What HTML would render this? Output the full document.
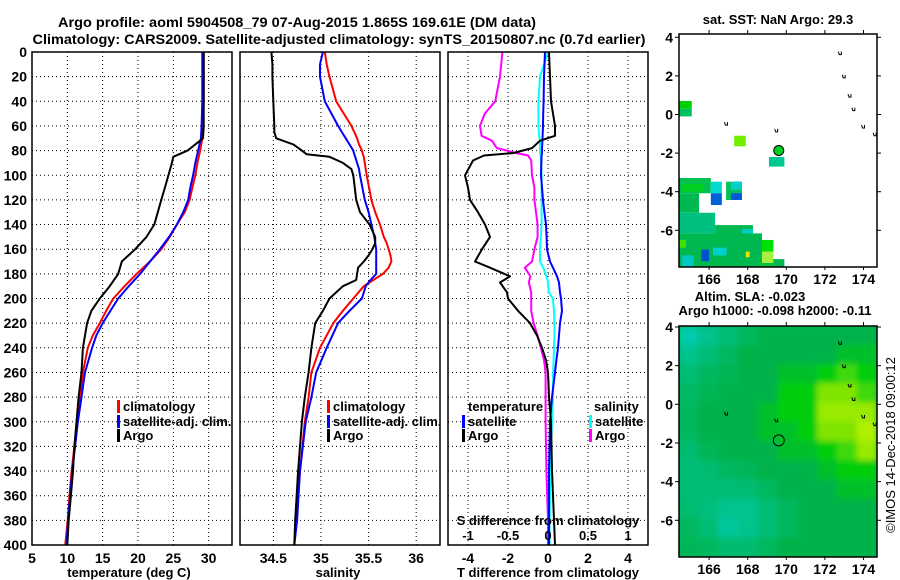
<!DOCTYPE html>
<html><head><meta charset="utf-8">
<style>
html,body{margin:0;padding:0;background:#fff;}
svg{display:block;font-family:"Liberation Sans",Arial,sans-serif;font-weight:bold;}
</style></head>
<body>
<svg id="fig" width="900" height="580" viewBox="0 0 900 580" xmlns="http://www.w3.org/2000/svg">
<defs>
<clipPath id="c1"><rect x="32" y="52" width="200" height="493"/></clipPath>
<clipPath id="c2"><rect x="240" y="52" width="200" height="493"/></clipPath>
<clipPath id="c3"><rect x="448" y="52" width="200" height="493"/></clipPath>
<clipPath id="cm1"><rect x="679" y="34" width="198" height="233"/></clipPath>
<clipPath id="cm2"><rect x="679" y="326" width="198" height="231"/></clipPath>
<filter id="soft" x="0" y="0" width="1" height="1"><feGaussianBlur stdDeviation="3"/></filter>
</defs>
<text x="297" y="27" font-size="14" text-anchor="middle" textLength="478" lengthAdjust="spacingAndGlyphs">Argo profile: aoml 5904508_79 07-Aug-2015 1.865S 169.61E (DM data)</text>
<text x="339" y="44" font-size="14" text-anchor="middle" textLength="613" lengthAdjust="spacingAndGlyphs">Climatology: CARS2009. Satellite-adjusted climatology: synTS_20150807.nc (0.7d earlier)</text>
<g id="layer"></g>
</svg>
<script>
// ---- depth grid (m) ----
const depths = [0,20,40,60,70,80,85,90,100,110,120,130,140,150,160,170,180,190,200,210,220,230,240,260,280,300,320,340,360,380,400];
// temperature (deg C)
const tempClim = [29.3,29.3,29.3,29.2,29.1,28.8,28.6,28.4,28.1,27.7,27.3,26.6,25.5,24.5,23.3,21.7,19.8,18.1,16.5,15.5,14.6,13.6,12.9,12.2,11.8,11.4,11.0,10.6,10.3,10.05,9.7];
const tempSat  = [29.1,29.1,29.1,29.0,28.9,28.5,28.3,28.1,27.8,27.4,27.1,26.4,25.5,24.4,23.1,21.7,20.3,18.7,17.2,16.1,15.0,14.1,13.5,12.5,12.0,11.5,11.1,10.7,10.4,10.1,9.9];
const tempArgo = [29.3,29.3,29.3,29.3,29.2,27.0,25.0,24.8,24.3,23.8,23.3,22.8,22.3,21.2,19.6,17.7,17.2,16.0,14.6,13.4,12.8,12.5,12.2,12.0,11.6,11.3,11.0,10.8,10.5,10.2,10.0];
// salinity (psu)
const salDepths = [0,10,20,40,60,65,70,75,80,83,85,90,95,100,120,130,140,150,155,160,165,170,175,180,185,190,200,210,220,240,260,280,300,340,380,400];
const salClim = [35.04,35.06,35.09,35.16,35.32,35.35,35.38,35.40,35.43,35.44,35.45,35.46,35.47,35.48,35.53,35.57,35.62,35.66,35.69,35.71,35.73,35.74,35.71,35.65,35.55,35.45,35.34,35.23,35.13,34.99,34.90,34.87,34.83,34.78,34.74,34.72];
const salSat  = [35.02,34.99,34.99,35.04,35.18,35.22,35.26,35.30,35.34,35.35,35.36,35.38,35.40,35.41,35.46,35.50,35.53,35.56,35.57,35.58,35.58,35.58,35.58,35.58,35.52,35.47,35.43,35.30,35.18,35.06,34.95,34.90,34.84,34.78,34.75,34.72];
const salArgo = [34.48,34.49,34.49,34.50,34.51,34.51,34.53,34.71,34.80,34.85,35.09,35.23,35.32,35.34,35.37,35.41,35.51,35.57,35.57,35.54,35.50,35.45,35.39,35.38,35.37,35.23,35.09,35.02,34.94,34.90,34.87,34.83,34.80,34.76,34.73,34.72];
// differences from climatology
const diffDepths = [0,20,40,50,60,68,72,78,82,84,88,100,110,120,130,140,150,160,170,175,182,187,195,200,210,220,230,240,250,260,280,300,340,380,400];
const tDiffArgo = [0.05,0.1,0.15,0.25,0.35,0.35,-0.4,-0.8,-1.75,-3.2,-3.75,-4.15,-4.0,-3.9,-3.5,-3.15,-2.9,-3.3,-3.65,-2.9,-1.9,-2.4,-2.05,-2.0,-1.5,-0.9,-0.55,-0.3,-0.1,0.0,0.05,0.15,0.2,0.3,0.35];
const tDiffSat  = [-0.15,-0.2,-0.22,-0.24,-0.25,-0.27,-0.28,-0.3,-0.3,-0.32,-0.33,-0.35,-0.3,-0.25,-0.18,-0.1,-0.07,-0.05,0.1,0.25,0.45,0.55,0.6,0.65,0.7,0.6,0.55,0.5,0.42,0.35,0.2,0.1,0.05,0.05,0.05];
const sDiffSat  = [0.0,-0.1,-0.12,-0.12,-0.12,-0.11,-0.1,-0.1,-0.1,-0.09,-0.09,-0.08,-0.08,-0.08,-0.08,-0.08,-0.09,-0.1,-0.1,-0.06,-0.02,0.0,0.01,0.06,0.075,0.08,0.08,0.075,0.07,0.065,0.06,0.05,0.03,0.02,0.02];
const sDiffArgo = [-0.57,-0.6,-0.66,-0.79,-0.85,-0.83,-0.7,-0.64,-0.39,-0.25,-0.21,-0.2,-0.17,-0.17,-0.15,-0.13,-0.13,-0.17,-0.2,-0.29,-0.22,-0.24,-0.21,-0.21,-0.21,-0.18,-0.13,-0.09,-0.05,-0.03,-0.03,-0.03,-0.02,0.0,0.0];
// ticks
const depthTicks = [0,20,40,60,80,100,120,140,160,180,200,220,240,260,280,300,320,340,360,380,400];
const tempTicks = [5,10,15,20,25,30];
const salTicks = [34.5,35,35.5,36];
const tDiffTicks = [-4,-2,0,2,4];
const sDiffTicks = [-1,-0.5,0,0.5,1];
const sDiffTickLabels = ["-1","-0.5","0","0.5","1"];
const latTicks = [4,2,0,-2,-4,-6];
const lonTicks = [166,168,170,172,174];
// SST map patches [lon0, latTop, lon1, latBottom, colour]
const sstPatches = [
[164.44,0.7,165.1,0.3,'#00d000'],[164.44,0.3,165.1,-0.1,'#00c060'],[167.3,-1.1,167.9,-1.65,'#70f000'],[169.1,-2.2,169.9,-2.7,'#00c890'],
[164.44,-3.29,166.09,-4.08,'#00c050'],[164.6,-3.6,165.7,-4.0,'#00d020'],[166.09,-3.48,166.66,-4.08,'#00d8d0'],[166.09,-4.08,166.66,-4.69,'#0060d8'],
[166.88,-3.48,167.7,-4.43,'#00c060'],[167.13,-3.48,167.7,-3.9,'#00d0c8'],[167.13,-4.08,167.7,-4.43,'#0058d8'],[164.44,-4.08,165.48,-5.09,'#00b850'],
[164.44,-5.09,166.31,-6.16,'#00c080'],[166.31,-5.73,168.27,-6.5,'#00b850'],[167.7,-5.93,168.27,-6.45,'#00d0c0'],[164.44,-6.16,168.74,-7.9,'#00b850'],
[165.6,-7.0,166.0,-7.6,'#0050d0'],[164.6,-7.3,165.2,-7.9,'#00c8c0'],[166.2,-6.9,166.9,-7.3,'#00d0d0'],[168.74,-6.5,169.33,-7.11,'#00e000'],
[168.74,-7.11,169.33,-7.69,'#a8f040'],[168.49,-7.69,169.33,-7.9,'#00c040'],[169.33,-7.49,169.9,-7.9,'#00b850'],[164.44,-6.5,164.8,-6.9,'#40e000'],[167.9,-7.1,168.1,-7.4,'#f0e000']
];
// SLA map grid values (rows lat 4..-8, cols lon 164.44..174.7)
const slaGrid = [
[0.3,0.8,1.2,1.6,2,2,2,2,2,2],
[0.8,1.2,1.6,2,2,2,2,2,2.5,2.5],
[1.2,1.6,1.8,2,2,2.5,2.5,3,3.5,3],
[1.5,1.8,2,2,2,3,3,4,4,3.5],
[1.6,2,2,2,2.5,3,3,4.5,4.5,4.5],
[1.6,2,2,2,2.5,2.5,3,4,4,5],
[1.3,1.7,2,2,2,2.5,2.5,3,3.5,4.5],
[1.2,1.3,1.6,1.7,2,2,2,2.5,3,3],
[1.2,1.2,1.2,1.3,1.6,2,2,2,2.5,2.5],
[1.3,1.1,0.8,0.8,1.2,1.6,2,2,2,2],
[1.6,1.2,0.6,0.8,1.2,1.6,2,2,2,2],
[1.7,1.6,1.3,1.3,1.6,2,2,2,2,2]
];
const argoLon = 169.61, argoLat = -1.865;
const coastLon = [172.8,173.0,173.3,173.5,174.0,174.6,169.5,166.9];
const coastLat = [3.1,1.9,0.9,0.2,-0.7,-1.1,-0.9,-0.55];

const NS='http://www.w3.org/2000/svg';
const layer=document.getElementById('layer');
function mk(tag,attrs,parent){const e=document.createElementNS(NS,tag);for(const k in attrs)e.setAttribute(k,attrs[k]);(parent||layer).appendChild(e);return e;}
const yD = d => 52 + d*(493/400);
function xs(x0,x1,v0,v1){return v=>x0+(v-v0)*(x1-x0)/(v1-v0);}
const xT = xs(32,232,5,33.3), xS = xs(240,440,34.15,36.25), xDT = xs(448,648,-5,5), xDS = xs(448,648,-1.25,1.25);
const lonX = xs(679,877,164.44,174.7);
const latY1 = v=>37.3+(4-v)*19.3, latY2 = v=>327+(4-v)*19.33;

function panel(x0,name,vgrid,clip){
  const g=mk('g',{});
  
  
  depthTicks.forEach(d=>{const l=mk('line',{x1:x0,x2:x0+200,y1:yD(d),y2:yD(d),stroke:'#000','stroke-width':1,'stroke-dasharray':'1,3'},g);
    });
  vgrid.forEach(x=>{const l=mk('line',{x1:x,x2:x,y1:52,y2:545,stroke:'#000','stroke-width':1,'stroke-dasharray':'1,3'},g);
    });
  return g;
}
function line(xsArr,ds,xf,col,w,clip,name){
  const p=mk('polyline',{points:xsArr.map((v,i)=>xf(v).toFixed(1)+','+yD(ds[i]).toFixed(1)).join(' '),fill:'none',stroke:col,'stroke-width':w,'clip-path':'url(#'+clip+')','stroke-linejoin':'round'});
  
}
function txt(x,y,s,size,anchor,name,fill){const t=mk('text',{x:x,y:y,'font-size':size,'text-anchor':anchor||'start',fill:fill||'#000'});t.textContent=s;
  return t;}
function border(x,y,w,h,name){const r=mk('rect',{x:x,y:y,width:w,height:h,fill:'none',stroke:'#000','stroke-width':1.5});}
function legend(x,y,col,s,name){const r=mk('rect',{x:x,y:y-6,width:3,height:13,fill:col});
  txt(x+6,y+5,s,13,'start',name+'-label');}

// Panel 1 temperature
panel(32,'temperature-panel',tempTicks.slice(1).map(xT),'c1');
line(tempClim,depths,xT,'#ff0000',2,'c1','temperature-climatology-line');
line(tempSat,depths,xT,'#0000ff',2,'c1','temperature-satellite-line');
line(tempArgo,depths,xT,'#000000',2,'c1','temperature-argo-line');
border(32,52,200,493,'temperature-plot-frame');
depthTicks.forEach(d=>txt(27,yD(d)+5,String(d),14,'end','depth-tick-label'));
tempTicks.forEach(t=>txt(xT(t),563,String(t),14,'middle','temperature-tick-label'));
txt(129,577,'temperature (deg C)',13,'middle','temperature-axis-title');
legend(117,406,'#ff0000','climatology','legend-climatology');
legend(117,421,'#0000ff','satellite-adj. clim.','legend-satellite');
legend(117,435,'#000000','Argo','legend-argo');

// Panel 2 salinity
panel(240,'salinity-panel',salTicks.map(xS),'c2');
line(salClim,salDepths,xS,'#ff0000',2,'c2','salinity-climatology-line');
line(salSat,salDepths,xS,'#0000ff',2,'c2','salinity-satellite-line');
line(salArgo,salDepths,xS,'#000000',2,'c2','salinity-argo-line');
border(240,52,200,493,'salinity-plot-frame');
salTicks.forEach(t=>txt(xS(t),563,String(t),14,'middle','salinity-tick-label'));
txt(338,577,'salinity',13,'middle','salinity-axis-title');
legend(327,406,'#ff0000','climatology','legend-sal-climatology');
legend(327,421,'#0000ff','satellite-adj. clim.','legend-sal-satellite');
legend(327,435,'#000000','Argo','legend-sal-argo');

// Panel 3 differences
panel(448,'difference-panel',tDiffTicks.map(xDT),'c3');
line(sDiffArgo,diffDepths,xDS,'#ff00ff',2,'c3','salinity-diff-argo-line');
line(sDiffSat,diffDepths,xDS,'#00ffff',2,'c3','salinity-diff-satellite-line');
line(tDiffSat,diffDepths,xDT,'#0000ff',2,'c3','temperature-diff-satellite-line');
line(tDiffArgo,diffDepths,xDT,'#000000',2,'c3','temperature-diff-argo-line');
border(448,52,200,493,'difference-plot-frame');
tDiffTicks.forEach(t=>txt(xDT(t),563,String(t),14,'middle','t-diff-tick-label'));
sDiffTicks.forEach((t,i)=>txt(xDS(t),540,sDiffTickLabels[i],13,'middle','s-diff-tick-label'));
txt(548,525,'S difference from climatology',13,'middle','s-diff-axis-title');
txt(548,577,'T difference from climatology',13,'middle','t-diff-axis-title');
txt(468,411,'temperature',13,'start','legend-temperature-heading');
legend(462,421,'#0000ff','satellite','legend-t-satellite');
legend(462,435,'#000000','Argo','legend-t-argo');
txt(594,411,'salinity',13,'start','legend-salinity-heading');
legend(589,421,'#00ffff','satellite','legend-s-satellite');
legend(589,435,'#ff00ff','Argo','legend-s-argo');

// Map 1: SST
txt(778,24,'sat. SST: NaN Argo: 29.3',13,'middle','sst-map-title');
const g1=mk('g',{'clip-path':'url(#cm1)'});

sstPatches.forEach(p=>{const r=mk('rect',{x:lonX(p[0]),y:latY1(p[1]),width:lonX(p[2])-lonX(p[0]),height:latY1(p[3])-latY1(p[1]),fill:p[4]},g1);
  });
function coast(g,latY){coastLon.forEach((lo,i)=>{const x=lonX(lo),y=latY(coastLat[i]);const p=mk('path',{d:`M${x-2},${y-3} l1,3 l2,0 l0,-3`,fill:'none',stroke:'#000','stroke-width':1},g);
  });}
coast(g1,latY1);
const a1=mk('circle',{cx:lonX(argoLon),cy:latY1(argoLat),r:5,fill:'#00d020',stroke:'#000','stroke-width':1});

border(679,34,198,233,'sst-map-frame');

// Map 2: SLA
txt(750,301,'Altim. SLA: -0.023',13,'middle','sla-map-title');
txt(775,315,'Argo h1000: -0.098 h2000: -0.11',13,'middle','sla-map-subtitle');
const g2=mk('g',{'clip-path':'url(#cm2)'});

const stops=[[0,[0,208,190]],[1,[0,192,130]],[2,[0,178,72]],[3,[0,206,16]],[4,[128,228,0]],[5,[176,240,0]]];
function col(v){for(let i=0;i<stops.length-1;i++){if(v<=stops[i+1][0]){const f=(v-stops[i][0]);const a=stops[i][1],b=stops[i+1][1];return 'rgb('+a.map((c,j)=>Math.round(c+(b[j]-c)*f)).join(',')+')';}}return 'rgb(176,240,0)';}
mk('rect',{x:679,y:326,width:198,height:231,fill:'#00b450'},g2);
const gb=mk('g',{filter:'url(#soft)'},g2);
const cw=198/10, ch=231/12;
slaGrid.forEach((row,i)=>row.forEach((v,j)=>{const r=mk('rect',{x:679+j*cw-0.5,y:326+i*ch-0.5,width:cw+1,height:ch+1,fill:col(v)},gb);
  }));
coast(g2,latY2);
const a2=mk('circle',{cx:lonX(argoLon),cy:latY2(argoLat),r:5.5,fill:'none',stroke:'#000','stroke-width':1});

border(679,326,198,231,'sla-map-frame');

// map axes
[[latY1,34,267],[latY2,326,557]].forEach(([ly,top,bot],k)=>{
  latTicks.forEach(t=>{txt(673,ly(t)+5,String(t),14,'end','latitude-tick-label');
    mk('line',{x1:877,x2:881,y1:ly(t),y2:ly(t),stroke:'#000'});
    mk('line',{x1:675,x2:679,y1:ly(t),y2:ly(t),stroke:'#000'});});
  lonTicks.forEach(t=>{txt(lonX(t),bot+17,String(t),14,'middle','longitude-tick-label');
    mk('line',{x1:lonX(t),x2:lonX(t),y1:top-4,y2:top,stroke:'#000'});
    mk('line',{x1:lonX(t),x2:lonX(t),y1:bot,y2:bot+3,stroke:'#000'});});
});
const cr=txt(0,0,'©IMOS 14-Dec-2018 09:00:12',13,'middle','imos-credit');
cr.setAttribute('font-weight','normal');
cr.setAttribute('transform','translate(895,445) rotate(-90)');
</script>
</body></html>
